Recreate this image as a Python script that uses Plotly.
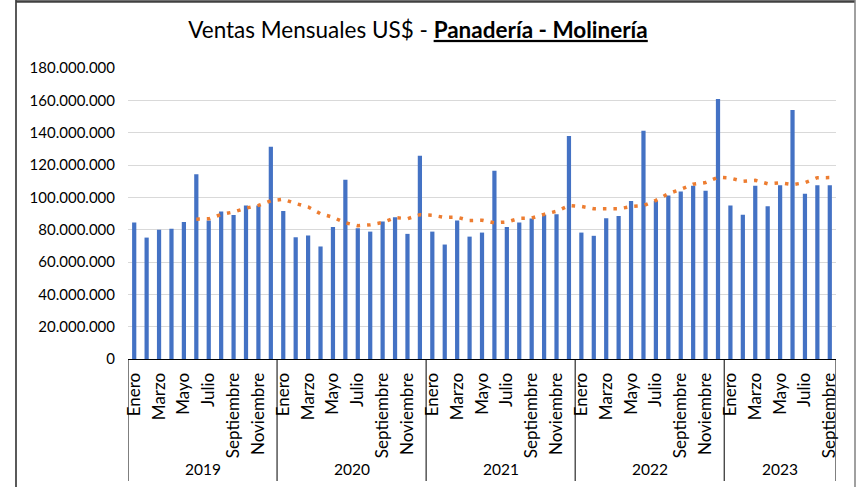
import plotly.graph_objects as go
import pandas as pd

years = [2019, 2020, 2021, 2022, 2023]
month_names = ["Enero", "Febrero", "Marzo", "Abril", "Mayo", "Junio", "Julio",
               "Agosto", "Septiembre", "Octubre", "Noviembre", "Diciembre"]
months_per_year = [12, 12, 12, 12, 9]

# Monthly sales (US$)
ventas = [
    84.4e6, 75.1e6, 79.9e6, 80.5e6, 84.8e6, 114.3e6, 85.7e6, 91.2e6, 89.0e6, 94.9e6, 94.9e6, 131.3e6,   # 2019
    91.6e6, 75.3e6, 76.4e6, 69.6e6, 81.7e6, 110.8e6, 80.9e6, 78.8e6, 85.0e6, 87.7e6, 77.4e6, 125.7e6,   # 2020
    78.8e6, 70.8e6, 85.7e6, 75.7e6, 78.2e6, 116.4e6, 81.7e6, 84.4e6, 86.9e6, 89.2e6, 89.6e6, 137.9e6,   # 2021
    78.2e6, 76.2e6, 87.1e6, 88.5e6, 97.8e6, 141.2e6, 97.8e6, 101.1e6, 103.6e6, 107.1e6, 104.0e6, 160.8e6,  # 2022
    94.9e6, 89.2e6, 107.1e6, 94.5e6, 107.5e6, 154.0e6, 102.2e6, 107.5e6, 107.5e6,                       # 2023
]

# Build category positions
labels = []
for y, n in zip(years, months_per_year):
    labels += month_names[:n]
xs = list(range(len(ventas)))

# 6-period moving average trend line (as in the original chart)
trend = pd.Series(ventas).rolling(6).mean()

fig = go.Figure()
fig.add_trace(go.Bar(x=xs, y=ventas, width=0.34, marker_color="#4472C4",
                     marker_line_width=0, showlegend=False))
fig.add_trace(go.Scatter(x=xs, y=trend, mode="lines",
                         line=dict(color="#ED7D31", width=3.5, dash="3.5px,7px"),
                         showlegend=False, connectgaps=False))

tickvals = [i for i, lab in enumerate(labels) if month_names.index(lab) % 2 == 0]
ticktext = [labels[i] for i in tickvals]

L, R, T, B = 128, 20, 68, 128
W, H = 856, 487
pw, ph = W - L - R, H - T - B

def px_x(p):
    return (p - L) / pw

def px_y(p):
    return (H - B - p) / ph

shapes = []
annotations = []
start = 0
bounds = [-0.5]
for y, n in zip(years, months_per_year):
    annotations.append(dict(x=start + (n - 1) / 2, xref="x", y=px_y(469), yref="paper",
                            text=str(y), showarrow=False, yanchor="middle",
                            font=dict(size=15.5, color="#000000")))
    start += n
    bounds.append(start - 0.5)
for b in bounds:
    shapes.append(dict(type="line", xref="x", yref="paper", x0=b, x1=b,
                       y0=0, y1=px_y(481), line=dict(color="#000000", width=1)))

# chart outer border
shapes.append(dict(type="line", xref="paper", yref="paper", x0=px_x(16), x1=px_x(16),
                   y0=px_y(500), y1=px_y(0), line=dict(color="#000000", width=1.3)))
shapes.append(dict(type="line", xref="paper", yref="paper", x0=px_x(16), x1=px_x(855),
                   y0=px_y(1.5), y1=px_y(1.5), line=dict(color="#404040", width=2.5)))
shapes.append(dict(type="line", xref="paper", yref="paper", x0=px_x(855), x1=px_x(855),
                   y0=px_y(500), y1=px_y(0), line=dict(color="#808080", width=1.5)))

fig.update_layout(
    width=W, height=H,
    margin=dict(l=L, r=R, t=T, b=B),
    paper_bgcolor="white", plot_bgcolor="white",
    separators=",.",
    font=dict(family="Lato, sans-serif", color="#000000"),
    title=dict(
        text='Ventas Mensuales US$ - <b><span style="text-decoration:underline">Panadería - Molinería</span></b>',
        x=418 / W, xref="container", xanchor="center",
        y=1 - 30 / H, yref="container", yanchor="middle",
        font=dict(size=22.5, color="#000000", family="Lato, sans-serif")),
    xaxis=dict(range=[-0.5, len(ventas) - 0.5], tickvals=tickvals, ticktext=ticktext,
               tickangle=-90, showgrid=False, showline=True, linecolor="#000000",
               linewidth=1, ticks="", tickfont=dict(size=17, color="#000000"),
               ticklabelstandoff=6, zeroline=False),
    yaxis=dict(range=[0, 180e6], dtick=20e6, tickformat=",d", showgrid=True,
               gridcolor="#D9D9D9", gridwidth=1, zeroline=False, showline=False,
               ticks="", tickfont=dict(size=15, color="#000000"),
               ticklabelstandoff=12),
    bargap=0.6,
    shapes=shapes,
    annotations=annotations,
)

fig.write_html("out.html", config={"displayModeBar": False},
               post_script="document.body.style.margin='0';document.body.style.overflow='hidden';")
